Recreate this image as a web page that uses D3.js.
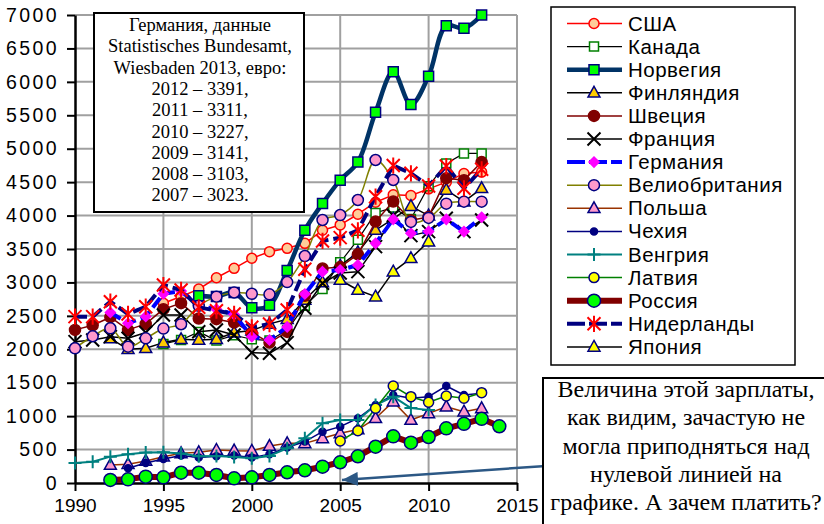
<!DOCTYPE html>
<html><head><meta charset="utf-8">
<script src="https://cdn.jsdelivr.net/npm/d3@7"></script>
<style>body{margin:0;background:#fff}svg{display:block}</style>
</head><body><svg id="c" width="824" height="524"></svg>
<script>
// ---------- DATA ----------
const years = d3.range(1990, 2015); // 1990 .. 2014
const xTicks = [1990, 1995, 2000, 2005, 2010, 2015];
const yTicks = d3.range(0, 7001, 500);
const _ = null;
const usa     = [_,_,_,_,_,2688,2790,2900,3070,3211,3361,3460,3510,3585,3780,3860,4020,4200,4310,4300,4400,4500,4630,4650,_];
const canada  = [_,_,_,_,_,2080,2140,2260,2130,2210,2150,2130,2290,2650,2900,3300,3640,4040,4120,3950,4440,4780,4930,4930,_];
const norway  = [_,_,_,_,_,_,_,2800,2790,2850,2620,2660,3180,3780,4180,4530,4800,5545,6150,5660,6085,6840,6800,7000,_];
const finland = [_,_,2164,2000,2015,2100,2150,2139,2150,2250,2280,2380,2450,2740,3000,3250,3450,3784,3950,4140,4000,4383,4208,4408,_];
const sweden  = [2290,2360,2480,2290,2380,2600,2690,2460,2450,2400,2250,2100,2260,2800,3210,3230,3420,3910,4210,3930,3980,4560,4530,4800,_];
const france  = [2114,2139,2189,2164,2250,2513,2513,2263,2288,2214,1950,1940,2100,2613,2987,3141,3161,3535,4000,3700,3760,3960,3760,3934,_];
const germany = [_,_,2550,2390,2490,2830,2870,2650,2600,2520,2188,2139,2335,2827,3161,3186,3261,3585,3944,3735,3760,3944,3760,3974,_];
const uk      = [2015,2195,2314,2039,2164,2310,2375,2650,2787,2850,2830,2822,3005,3395,3934,4008,4233,4831,4532,3905,3965,4178,4208,4208,_];
const poland  = [_,_,270,280,330,394,444,460,494,484,480,553,593,593,668,743,800,968,1217,942,1042,1141,1067,1117,_];
const czech   = [_,_,_,220,300,360,410,380,400,410,380,430,530,620,768,843,968,1167,1316,1267,1291,1451,1316,1341,_];
const hungary = [300,319,394,430,455,460,440,400,404,390,369,405,520,668,893,942,942,1167,1291,1120,1092,_,_,_,_];
const latvia  = [_,_,_,_,_,_,_,_,_,_,_,_,_,_,_,628,782,1117,1451,1291,1207,1301,1267,1351,_];
const russia  = [_,_,45,55,95,85,154,154,120,70,85,120,160,190,244,310,400,543,698,603,688,818,885,960,848];
const nether  = [2488,2488,2712,2528,2637,2961,2887,2628,2577,2528,2329,2378,2587,3196,3620,3670,3780,4282,4748,4632,4442,4741,4408,4692,_];
const japan   = [_,_,_,_,_,_,_,_,_,_,_,_,_,_,_,3036,2887,2787,3161,3361,3610,_,_,_,_];

const names = ["США","Канада","Норвегия","Финляндия","Швеция","Франция","Германия","Велиобритания","Польша","Чехия","Венгрия","Латвия","Россия","Нидерланды","Япония"];
const boxLines = ["Германия, данные","Statistisches Bundesamt,","Wiesbaden 2013, евро:","2012 – 3391,","2011 – 3311,","2010 – 3227,","2009 – 3141,","2008 – 3103,","2007 – 3023."];
const noteLines = ["Величина этой зарплаты,","как видим, зачастую не","могла приподняться над","нулевой линией на","графике. А зачем платить?"];

// ---------- STYLES ----------
const styles = [
  {d:usa,     line:"#ff0000", w:1.5, m:"circle",  s:5,   fill:"#ffcc99", stroke:"#ff0000"},
  {d:canada,  line:"#000000", w:1.2, m:"square",  s:9,   fill:"#ffffff", stroke:"#008000"},
  {d:norway,  line:"#003366", w:4.5, m:"square",  s:10,  fill:"#00ff00", stroke:"#000080", curve:true},
  {d:finland, line:"#000000", w:1.5, m:"tri",     s:12,  fill:"#ffcc00", stroke:"#000080"},
  {d:sweden,  line:"#800000", w:1.5, m:"circle",  s:5.5, fill:"#800000", stroke:"#800000"},
  {d:france,  line:"#000000", w:1.5, m:"x",       s:6.5, fill:"none",    stroke:"#000000"},
  {d:germany, line:"#0000ff", w:4,   m:"diamond", s:5,   fill:"#ff00ff", stroke:"#ff00ff", dash:"12,5"},
  {d:uk,      line:"#808000", w:1.5, m:"circle",  s:5.5, fill:"#ff99cc", stroke:"#000080", curve:true},
  {d:poland,  line:"#993300", w:1.5, m:"tri",     s:12,  fill:"#ff99cc", stroke:"#000080"},
  {d:czech,   line:"#000080", w:1.5, m:"circle",  s:3.5, fill:"#000080", stroke:"#000080"},
  {d:hungary, line:"#008080", w:2,   m:"plus",    s:6.5, fill:"none",    stroke:"#008080"},
  {d:latvia,  line:"#008000", w:1.5, m:"circle",  s:5,   fill:"#ffff00", stroke:"#000080"},
  {d:russia,  line:"#800000", w:6,   m:"circle",  s:6.5, fill:"#00ff00", stroke:"#000080"},
  {d:nether,  line:"#000080", w:4,   m:"star",    s:6.5, fill:"none",    stroke:"#ff0000", dash:"12,5"},
  {d:japan,   line:"#000000", w:1.5, m:"tri",     s:12,  fill:"#ffff00", stroke:"#000080"}
];

function markerPath(m, s){
  switch(m){
    case "circle": return d3.symbol(d3.symbolCircle, Math.PI*s*s)();
    case "square": return `M${-s/2},${-s/2}h${s}v${s}h${-s}Z`;
    case "tri": { const h=s*0.9; return `M0,${-h*0.6}L${s/2},${h*0.4}L${-s/2},${h*0.4}Z`; }
    case "diamond": return `M0,${-s}L${s},0L0,${s}L${-s},0Z`;
    case "x": return `M${-s},${-s}L${s},${s}M${-s},${s}L${s},${-s}`;
    case "plus": return `M${-s},0H${s}M0,${-s}V${s}`;
    case "star": return `M${-s},${-s}L${s},${s}M${-s},${s}L${s},${-s}M0,${-s*1.25}V${s*1.25}`;
  }
}

// ---------- CHART ----------
const svg = d3.select("#c");
const x = d3.scaleLinear().domain([1990, 2015]).range([75, 517]);
const y = d3.scaleLinear().domain([0, 7000]).range([483, 15]);
const gray = "#a0a0a0";

const grid = svg.append("g");
grid.selectAll("line.h").data(yTicks.filter(v=>v>0)).join("line")
  .attr("x1", x(1990)).attr("x2", x(2015)).attr("y1", d=>y(d)).attr("y2", d=>y(d))
  .attr("stroke", gray).attr("stroke-width", 2);
grid.selectAll("line.v").data(xTicks.filter(v=>v>1990)).join("line")
  .attr("x1", d=>x(d)).attr("x2", d=>x(d)).attr("y1", y(0)).attr("y2", y(7000))
  .attr("stroke", gray).attr("stroke-width", 2);

const font = "'Liberation Sans', Arial, sans-serif";
const yAxis = svg.append("g").attr("transform", `translate(${x(1990)},0)`)
  .call(d3.axisLeft(y).tickValues(yTicks).tickSize(8).tickSizeOuter(0).tickPadding(8).tickFormat(d3.format("d")));
const xAxis = svg.append("g").attr("transform", `translate(0,${y(0)})`)
  .call(d3.axisBottom(x).tickValues(xTicks).tickSize(8).tickSizeOuter(0).tickPadding(8).tickFormat(d3.format("d")));
[yAxis, xAxis].forEach(a=>{
  a.select(".domain").attr("stroke","#000").attr("stroke-width",2.5);
  a.selectAll(".tick line").attr("stroke","#000").attr("stroke-width",2);
  a.selectAll(".tick text").attr("font-family", font).attr("font-size", 19).attr("fill","#000");
});
yAxis.selectAll(".tick text").attr("font-size", 19.5).attr("letter-spacing", "2.4px");

// series
styles.forEach((st)=>{
  const pts = years.map((yr,i)=>({yr, v: st.d[i]})).filter(p=>p.v!=null);
  const g = svg.append("g");
  const line = d3.line().x(p=>x(p.yr)).y(p=>y(p.v));
  if (st.curve) line.curve(d3.curveCatmullRom.alpha(0.5));
  g.append("path").datum(pts).attr("d", line).attr("fill","none")
    .attr("stroke", st.line).attr("stroke-width", st.w)
    .attr("stroke-dasharray", st.dash || null).attr("stroke-linejoin","round");
  g.selectAll("path.m").data(pts).join("path").attr("class","m")
    .attr("transform", p=>`translate(${x(p.yr)},${y(p.v)})`)
    .attr("d", markerPath(st.m, st.s))
    .attr("fill", st.fill).attr("stroke", st.stroke)
    .attr("stroke-width", (st.m==="x"||st.m==="star"||st.m==="plus") ? 2 : 1.5);
});

// German text box
const tb = svg.append("g");
tb.append("rect").attr("x",94).attr("y",13).attr("width",210).attr("height",199)
  .attr("fill","#fff").attr("stroke","#000").attr("stroke-width",2);
tb.selectAll("text").data(boxLines).join("text")
  .attr("x",200).attr("y",(d,i)=>31+i*21.3).attr("text-anchor","middle")
  .attr("font-family","'Liberation Serif','Times New Roman',serif").attr("font-size",18.5)
  .text(d=>d);

// legend
const lg = svg.append("g");
lg.append("rect").attr("x",551).attr("y",7).attr("width",244).attr("height",358)
  .attr("fill","#fff").attr("stroke","#000").attr("stroke-width",1.5);
styles.forEach((st,i)=>{
  const cy = 23.5 + i*23.1;
  lg.append("line").attr("x1",567).attr("x2",622).attr("y1",cy).attr("y2",cy)
    .attr("stroke",st.line).attr("stroke-width",st.w).attr("stroke-dasharray", st.dash ? "18,4" : null);
  lg.append("path").attr("transform",`translate(594,${cy})`).attr("d",markerPath(st.m, st.s))
    .attr("fill",st.fill).attr("stroke",st.stroke)
    .attr("stroke-width",(st.m==="x"||st.m==="star"||st.m==="plus") ? 2 : 1.5);
  lg.append("text").attr("x",628).attr("y",cy+7).attr("font-family",font).attr("font-size",20.5)
    .attr("letter-spacing","0.5px").text(names[i]);
});

// note with arrow
const defs = svg.append("defs");
defs.append("marker").attr("id","ah").attr("markerUnits","userSpaceOnUse")
  .attr("markerWidth",16).attr("markerHeight",14).attr("refX",16).attr("refY",7).attr("orient","auto")
  .append("path").attr("d","M0,0L16,7L0,14Z").attr("fill","#2c5885");
svg.append("line").attr("x1",546).attr("y1",466).attr("x2",342).attr("y2",480)
  .attr("stroke","#2c5885").attr("stroke-width",2.5).attr("marker-end","url(#ah)");
const nb = svg.append("g");
nb.append("rect").attr("x",543).attr("y",378).attr("width",300).attr("height",200)
  .attr("fill","#fff").attr("stroke","#000").attr("stroke-width",2);
nb.selectAll("text").data(noteLines).join("text")
  .attr("x",686).attr("y",(d,i)=>397+i*28.3).attr("text-anchor","middle")
  .attr("font-family","'Liberation Serif','Times New Roman',serif").attr("font-size",24)
  .text(d=>d);
</script></body></html>
